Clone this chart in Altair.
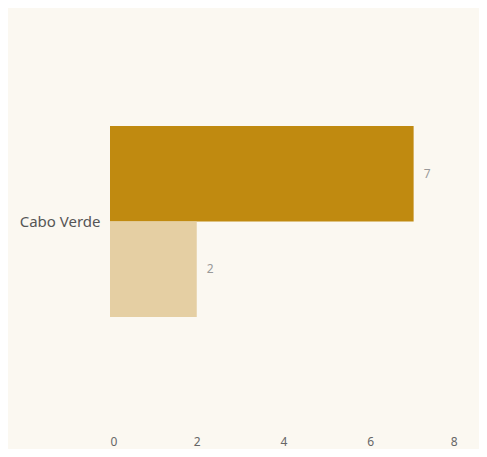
import altair as alt
import pandas as pd

categories = ["Cabo Verde", "Cabo Verde"]
series = ["Series 1", "Series 2"]
values = [7, 2]
colors = ["#C08A10", "#E5CFA3"]

df = pd.DataFrame({"country": categories, "series": series, "value": values})

base = alt.Chart(df).encode(
    y=alt.Y("country:N", title=None,
            scale=alt.Scale(paddingOuter=0.6073, paddingInner=0),
            axis=alt.Axis(ticks=False, domain=False, labelFontSize=15,
                          labelColor="#555555", labelPadding=10,
                          labelFont="Noto Sans")),
    yOffset=alt.YOffset("series:N", sort=series),
)

bars = base.mark_bar().encode(
    x=alt.X("value:Q", title=None,
            scale=alt.Scale(domain=[0, 8]),
            axis=alt.Axis(values=[0, 2, 4, 6, 8], ticks=False, domain=False, grid=False,
                          labelFontSize=12, labelColor="#666666", labelPadding=3,
                          labelFont="Noto Sans")),
    color=alt.Color("series:N", scale=alt.Scale(domain=series, range=colors), legend=None),
)

labels = base.mark_text(align="left", baseline="middle", dx=10, fontSize=12,
                        color="#999999", font="Noto Sans").encode(
    x="value:Q",
    text="value:Q",
)

chart = (bars + labels).properties(
    width=347, height=423,
    autosize=alt.AutoSizeParams(type="none"),
    padding={"left": 102, "top": 2, "right": 22, "bottom": 16},
    background="#FBF8F1",
).configure_view(stroke=None)

chart.save("out.html", embed_options={"renderer": "svg", "actions": False})
